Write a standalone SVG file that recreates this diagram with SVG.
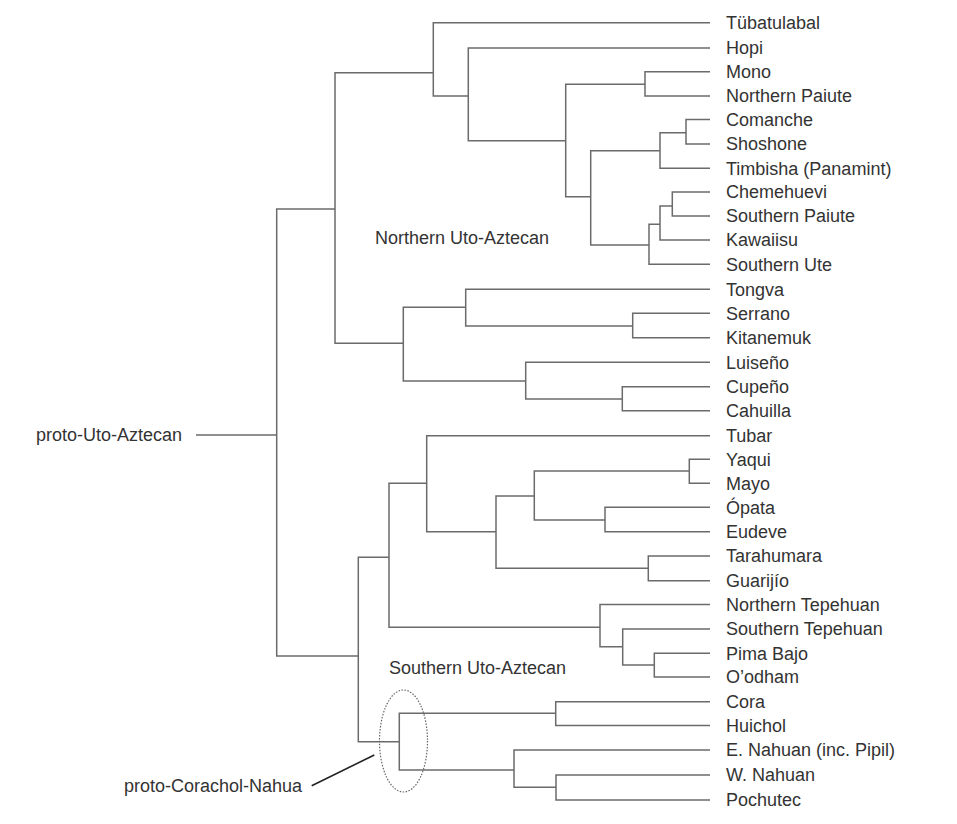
<svg xmlns="http://www.w3.org/2000/svg" width="957" height="824" viewBox="0 0 957 824">
<style>
.br{fill:none;stroke:#6b6b6b;stroke-width:1.5}
.lf{font-family:"Liberation Sans",Arial,sans-serif;font-size:18px;fill:#333}
.lb{font-family:"Liberation Sans",Arial,sans-serif;font-size:18px;fill:#333}
</style>
<rect width="957" height="824" fill="#fff"/>
<g id="connectors">
<path class="br" d="M196 435H276.7"/>
<path class="br" d="M335 209H276.7V656H358.3"/>
<path class="br" d="M433.3 72.7H335V343.3H403.3"/>
<path class="br" d="M710 22.7H433.3V96H468.3"/>
<path class="br" d="M710 48H468.3V140.7H565.7"/>
<path class="br" d="M645 84.3H565.7V196.7H590.7"/>
<path class="br" d="M710 71.7H645V96H710"/>
<path class="br" d="M660 150.7H590.7V245H649"/>
<path class="br" d="M686 132.7H660V168.3H710"/>
<path class="br" d="M710 119.5H686V144H710"/>
<path class="br" d="M660 224.3H649V264.3H710"/>
<path class="br" d="M672.3 206H660V240H710"/>
<path class="br" d="M710 192H672.3V216H710"/>
<path class="br" d="M465.7 307.3H403.3V381H525.7"/>
<path class="br" d="M710 289.3H465.7V326H632.7"/>
<path class="br" d="M710 313.3H632.7V337.7H710"/>
<path class="br" d="M710 362.3H525.7V399H622.3"/>
<path class="br" d="M710 386.7H622.3V410.7H710"/>
<path class="br" d="M389 557.3H358.3V741.7H399.3"/>
<path class="br" d="M426.7 483.3H389V627.3H600"/>
<path class="br" d="M710 435.7H426.7V531.7H496"/>
<path class="br" d="M534.3 496H496V568.3H648.3"/>
<path class="br" d="M689.3 471H534.3V520H605"/>
<path class="br" d="M710 459.3H689.3V483.3H710"/>
<path class="br" d="M710 507.3H605V531.7H710"/>
<path class="br" d="M710 556H648.3V580.7H710"/>
<path class="br" d="M710 604.5H600V646.7H622.7"/>
<path class="br" d="M710 629H622.7V665H654.3"/>
<path class="br" d="M710 653.3H654.3V677H710"/>
<path class="br" d="M555.7 713.3H399.3V770H514"/>
<path class="br" d="M710 701.7H555.7V725.5H710"/>
<path class="br" d="M710 750H514V787.3H556"/>
<path class="br" d="M710 775H556V800H710"/>
<ellipse cx="403.5" cy="741" rx="24" ry="51" fill="none" stroke="#666" stroke-width="1.2" stroke-dasharray="1.5 1.5"/>
<path d="M311.7 785.7L374.3 755" fill="none" stroke="#222" stroke-width="1.6"/>
</g>
<g id="root"><text class="lb" x="36" y="441">proto-Uto-Aztecan</text></g>
<g id="northern"><text class="lb" x="375" y="244">Northern Uto-Aztecan</text></g>
<g id="southern"><text class="lb" x="389" y="674">Southern Uto-Aztecan</text></g>
<g id="corachol-nahua"><text class="lb" x="124" y="792">proto-Corachol-Nahua</text></g>
<g id="leaves">
<g id="l0"><text class="lf" x="726" y="29">Tübatulabal</text></g>
<g id="l1"><text class="lf" x="726" y="54">Hopi</text></g>
<g id="l2"><text class="lf" x="726" y="78">Mono</text></g>
<g id="l3"><text class="lf" x="726" y="102">Northern Paiute</text></g>
<g id="l4"><text class="lf" x="726" y="126">Comanche</text></g>
<g id="l5"><text class="lf" x="726" y="150">Shoshone</text></g>
<g id="l6"><text class="lf" x="726" y="174.5">Timbisha (Panamint)</text></g>
<g id="l7"><text class="lf" x="726" y="198">Chemehuevi</text></g>
<g id="l8"><text class="lf" x="726" y="222">Southern Paiute</text></g>
<g id="l9"><text class="lf" x="726" y="246">Kawaiisu</text></g>
<g id="l10"><text class="lf" x="726" y="270.5">Southern Ute</text></g>
<g id="l11"><text class="lf" x="726" y="295.5">Tongva</text></g>
<g id="l12"><text class="lf" x="726" y="319.5">Serrano</text></g>
<g id="l13"><text class="lf" x="726" y="344">Kitanemuk</text></g>
<g id="l14"><text class="lf" x="726" y="368.5">Luiseño</text></g>
<g id="l15"><text class="lf" x="726" y="393">Cupeño</text></g>
<g id="l16"><text class="lf" x="726" y="417">Cahuilla</text></g>
<g id="l17"><text class="lf" x="726" y="442">Tubar</text></g>
<g id="l18"><text class="lf" x="726" y="465.5">Yaqui</text></g>
<g id="l19"><text class="lf" x="726" y="489.5">Mayo</text></g>
<g id="l20"><text class="lf" x="726" y="513.5">Ópata</text></g>
<g id="l21"><text class="lf" x="726" y="538">Eudeve</text></g>
<g id="l22"><text class="lf" x="726" y="562">Tarahumara</text></g>
<g id="l23"><text class="lf" x="726" y="587">Guarijío</text></g>
<g id="l24"><text class="lf" x="726" y="610.5">Northern Tepehuan</text></g>
<g id="l25"><text class="lf" x="726" y="635">Southern Tepehuan</text></g>
<g id="l26"><text class="lf" x="726" y="659.5">Pima Bajo</text></g>
<g id="l27"><text class="lf" x="726" y="683">O’odham</text></g>
<g id="l28"><text class="lf" x="726" y="708">Cora</text></g>
<g id="l29"><text class="lf" x="726" y="731.5">Huichol</text></g>
<g id="l30"><text class="lf" x="726" y="756">E. Nahuan (inc. Pipil)</text></g>
<g id="l31"><text class="lf" x="726" y="781">W. Nahuan</text></g>
<g id="l32"><text class="lf" x="726" y="806">Pochutec</text></g>
</g>
</svg>
